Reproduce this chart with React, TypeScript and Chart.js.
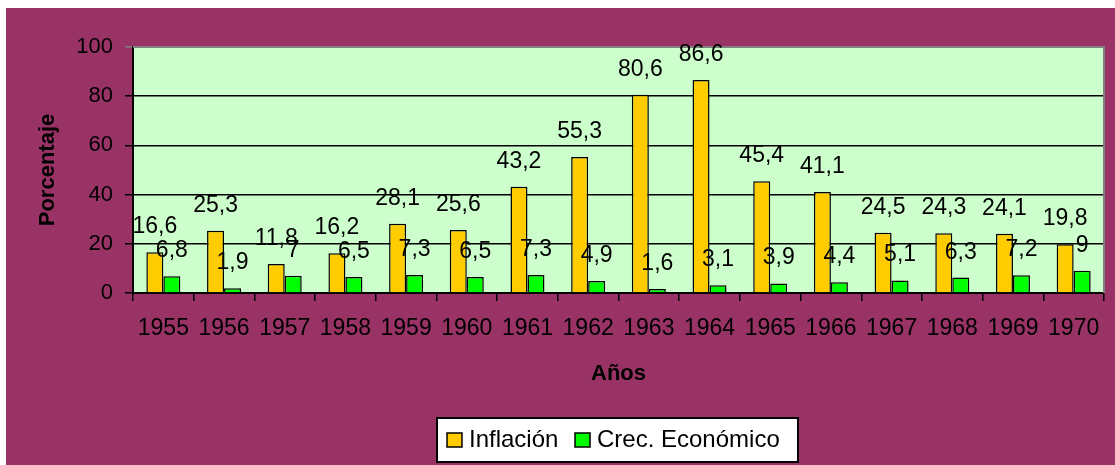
import React, { useEffect, useRef } from "react";
import { Chart, registerables } from "chart.js";

Chart.register(...registerables);

const years = ["1955","1956","1957","1958","1959","1960","1961","1962","1963","1964","1965","1966","1967","1968","1969","1970"];
const inflacion = [16.6, 25.3, 11.8, 16.2, 28.1, 25.6, 43.2, 55.3, 80.6, 86.6, 45.4, 41.1, 24.5, 24.3, 24.1, 19.8];
const crecimiento = [6.8, 1.9, 7, 6.5, 7.3, 6.5, 7.3, 4.9, 1.6, 3.1, 3.9, 4.4, 5.1, 6.3, 7.2, 9];
const seriesNames = ["Inflación", "Crec. Económico"];
const seriesColors = ["#FFCC00", "#00FF00"];
const yTicks = [0, 20, 40, 60, 80, 100];

const FONT = "'Liberation Sans', Arial, sans-serif";

const backgroundPlugin = {
  id: "bgPlugin",
  beforeDraw(chart: any) {
    const { ctx, width, height, chartArea } = chart;
    ctx.save();
    ctx.fillStyle = "#ffffff";
    ctx.fillRect(0, 0, width, height);
    ctx.fillStyle = "#993366";
    ctx.fillRect(6, 8, width - 6, height - 8);
    ctx.fillStyle = "#CCFFCC";
    ctx.fillRect(chartArea.left, chartArea.top, chartArea.right - chartArea.left, chartArea.bottom - chartArea.top);
    ctx.restore();
  },
  beforeDatasetsDraw(chart: any) {
    const { ctx, chartArea } = chart;
    ctx.save();
    ctx.strokeStyle = "#808080";
    ctx.lineWidth = 2;
    ctx.beginPath();
    ctx.moveTo(chartArea.left, chartArea.top);
    ctx.lineTo(chartArea.right, chartArea.top);
    ctx.lineTo(chartArea.right, chartArea.bottom);
    ctx.stroke();
    ctx.restore();
  },
};

const labelPlugin = {
  id: "valueLabels",
  afterDatasetsDraw(chart: any) {
    const { ctx } = chart;
    ctx.save();
    ctx.font = `23px ${FONT}`;
    ctx.fillStyle = "#000";
    ctx.textAlign = "center";
    ctx.textBaseline = "alphabetic";
    chart.data.datasets.forEach((ds: any, di: number) => {
      const meta = chart.getDatasetMeta(di);
      meta.data.forEach((el: any, i: number) => {
        const v = ds.data[i];
        const txt = String(v).replace(".", ",");
        ctx.fillText(txt, el.x, el.y - 19);
      });
    });
    ctx.restore();
  },
};

const legendPlugin = {
  id: "boxLegend",
  afterDraw(chart: any) {
    const { ctx } = chart;
    ctx.save();
    ctx.fillStyle = "#ffffff";
    ctx.fillRect(437, 418, 361, 44);
    ctx.strokeStyle = "#000";
    ctx.lineWidth = 2;
    ctx.strokeRect(437, 418, 361, 44);
    const swX = [447, 575];
    const txX = [469, 597];
    ctx.font = `24px ${FONT}`;
    ctx.textBaseline = "alphabetic";
    ctx.textAlign = "left";
    seriesNames.forEach((name, i) => {
      ctx.fillStyle = seriesColors[i];
      ctx.fillRect(swX[i], 433, 15, 14);
      ctx.strokeStyle = "#000";
      ctx.lineWidth = 1.5;
      ctx.strokeRect(swX[i], 433, 15, 14);
      ctx.fillStyle = "#000";
      ctx.fillText(name, txX[i], 447);
    });
    ctx.restore();
  },
};

export default function App() {
  const ref = useRef<HTMLCanvasElement>(null);
  useEffect(() => {
    if (!ref.current) return;
    const chart = new Chart(ref.current, {
      type: "bar",
      data: {
        labels: years,
        datasets: [
          {
            label: seriesNames[0],
            data: inflacion,
            backgroundColor: seriesColors[0],
            borderColor: "#000",
            borderWidth: 1.5,
            categoryPercentage: 0.56,
            barPercentage: 1,
          },
          {
            label: seriesNames[1],
            data: crecimiento,
            backgroundColor: seriesColors[1],
            borderColor: "#000",
            borderWidth: 1.5,
            categoryPercentage: 0.56,
            barPercentage: 1,
          },
        ],
      },
      options: {
        responsive: false,
        animation: false,
        events: [],
        layout: { padding: { left: 6, top: 47, right: 11, bottom: 65 } },
        plugins: {
          legend: { display: false },
          tooltip: { enabled: false },
        },
        scales: {
          x: {
            grid: {
              drawOnChartArea: false,
              drawTicks: true,
              tickLength: 8,
              color: "#000",
              lineWidth: 1.5,
              offset: true,
            },
            border: { display: true, color: "#000", width: 2 },
            ticks: {
              color: "#000",
              font: { family: FONT, size: 23 },
              padding: 14,
              maxRotation: 0,
              autoSkip: false,
            },
            title: {
              display: true,
              text: "Años",
              color: "#000",
              font: { family: FONT, size: 22, weight: "bold" },
              padding: { top: 0, bottom: 13 },
            },
            afterFit(scale: any) {
              scale.height = 107;
            },
          },
          y: {
            min: 0,
            max: 100,
            afterBuildTicks(scale: any) {
              scale.ticks = yTicks.map((v) => ({ value: v }));
            },
            grid: {
              drawTicks: true,
              tickLength: 8,
              color: (c: any) => (c.tick && c.tick.value === 100 ? "#808080" : "#000"),
              lineWidth: 1.5,
            },
            border: { display: true, color: "#000", width: 2 },
            ticks: {
              color: "#000",
              font: { family: FONT, size: 22 },
              padding: 12,
            },
            title: {
              display: true,
              text: "Porcentaje",
              color: "#000",
              font: { family: FONT, size: 22, weight: "bold" },
              padding: { top: 29, bottom: 0 },
            },
            afterFit(scale: any) {
              scale.width = 127;
            },
          },
        },
      },
      plugins: [backgroundPlugin, labelPlugin, legendPlugin],
    });
    return () => chart.destroy();
  }, []);
  return (
    <div style={{ position: "absolute", left: 0, top: 0, width: 1115, height: 465 }}>
      <canvas ref={ref} width={1115} height={465} style={{ display: "block" }} />
    </div>
  );
}
